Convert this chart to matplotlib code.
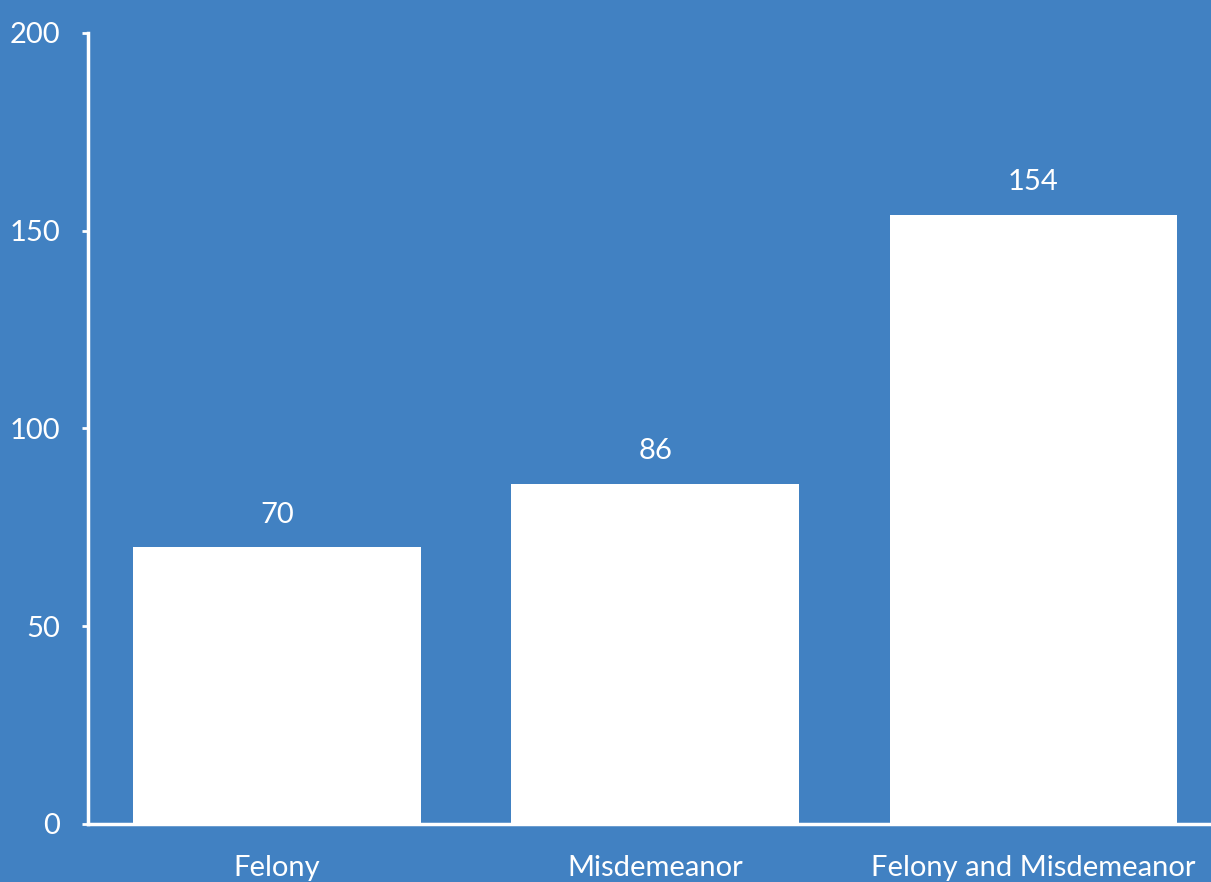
import matplotlib
matplotlib.use('Agg')
import matplotlib.pyplot as plt

categories = ['Felony', 'Misdemeanor', 'Felony and Misdemeanor']
counts = [70, 86, 154]
yticks = [0, 50, 100, 150, 200]

bg = '#4181c2'
plt.rcParams['font.family'] = ['Lato', 'DejaVu Sans']

fig = plt.figure(figsize=(12.11, 8.82), dpi=100, facecolor=bg)
ax = fig.add_axes([88 / 1211, 58 / 882, 1 - 88 / 1211, (824 - 33) / 882])
ax.set_facecolor(bg)

xs = range(len(categories))
ax.bar(xs, counts, width=0.76, color='white', zorder=2)
for x, v in zip(xs, counts):
    ax.annotate(str(v), (x, v), xytext=(0, 14), textcoords='offset points',
                ha='center', va='bottom', color='white', fontsize=21)

ax.set_xlim(-0.5, 2.47)
ax.set_ylim(0, 200)
ax.set_xticks(list(xs))
ax.set_xticklabels(categories)
ax.set_yticks(yticks)

for side in ('top', 'right'):
    ax.spines[side].set_visible(False)
for side in ('left', 'bottom'):
    ax.spines[side].set_color('white')
    ax.spines[side].set_linewidth(2.5)
ax.spines['bottom'].set_zorder(3)

ax.tick_params(axis='y', colors='white', length=4, width=2, pad=16, labelsize=21)
ax.tick_params(axis='x', colors='white', length=0, pad=22, labelsize=21)

fig.savefig('out.png', dpi=100, facecolor=bg)
